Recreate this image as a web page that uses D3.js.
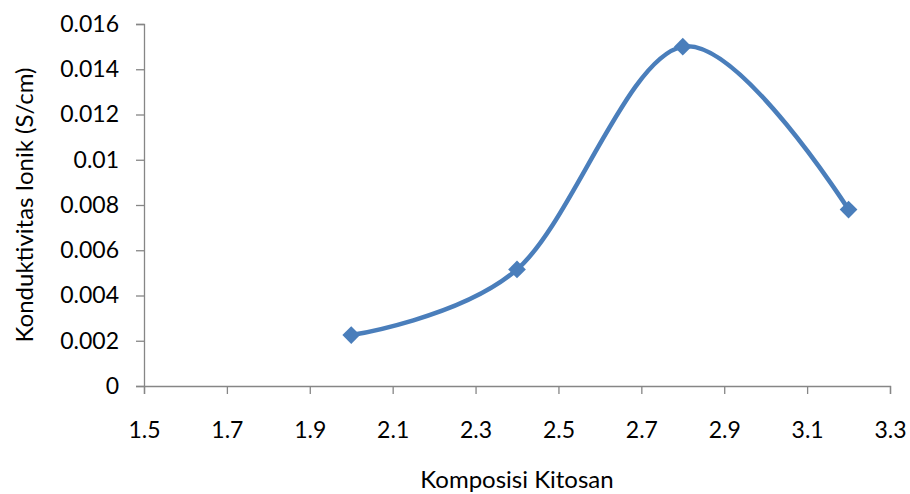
<!DOCTYPE html>
<html><head><meta charset="utf-8">
<script src="https://cdn.jsdelivr.net/npm/d3@7"></script>
<style>body{margin:0;background:#fff;}svg{display:block;}text{font-family:Lato,"Open Sans",sans-serif;fill:#000;}</style>
</head><body>
<svg id="c" width="910" height="494"></svg>
<script>
const xValues = [2.0, 2.4, 2.8, 3.2];
const yValues = [0.00225, 0.00515, 0.015, 0.0078];
const xTicks = [1.5, 1.7, 1.9, 2.1, 2.3, 2.5, 2.7, 2.9, 3.1, 3.3];
const yTicks = [0, 0.002, 0.004, 0.006, 0.008, 0.01, 0.012, 0.014, 0.016];
const xTitle = "Komposisi Kitosan";
const yTitle = "Konduktivitas Ionik (S/cm)";

const svg = d3.select("#c");
const x = d3.scaleLinear().domain([1.5, 3.3]).range([144, 890]);
const y = d3.scaleLinear().domain([0, 0.016]).range([386, 24]);
const axisColor = "#868686";

const yAxis = svg.append("g").attr("transform", "translate(144,0)")
  .call(d3.axisLeft(y).tickValues(yTicks).tickSize(8).tickPadding(17).tickFormat(d => String(d)));
const xAxis = svg.append("g").attr("transform", "translate(0,386)")
  .call(d3.axisBottom(x).tickValues(xTicks).tickSize(8).tickPadding(28).tickFormat(d => d.toFixed(1)));
[xAxis, yAxis].forEach(g => {
  g.select(".domain").attr("stroke", axisColor).attr("stroke-width", 1.3);
  g.selectAll(".tick line").attr("stroke", axisColor).attr("stroke-width", 1.3);
  g.selectAll("text").style("font-size", "23px").attr("fill", "#000");
});

const pts = xValues.map((v, i) => [x(v), y(yValues[i])]);
svg.append("path").datum(pts)
  .attr("d", d3.line().curve(d3.curveCardinal.tension(0)))
  .attr("fill", "none").attr("stroke", "#4A7EBB").attr("stroke-width", 4.5)
  .attr("stroke-linecap", "round");

svg.selectAll(".m").data(pts).enter().append("path")
  .attr("transform", d => `translate(${d[0]},${d[1]})`)
  .attr("d", d3.symbol().type(d3.symbolDiamond2 || d3.symbolDiamond).size(200)())
  .attr("fill", "#4A7EBB");

svg.append("text").attr("x", 517).attr("y", 488).attr("text-anchor", "middle")
  .style("font-size", "24px").text(xTitle);
svg.append("text").attr("transform", "translate(33,205) rotate(-90)").attr("text-anchor", "middle")
  .style("font-size", "24px").text(yTitle);
</script>
</body></html>
